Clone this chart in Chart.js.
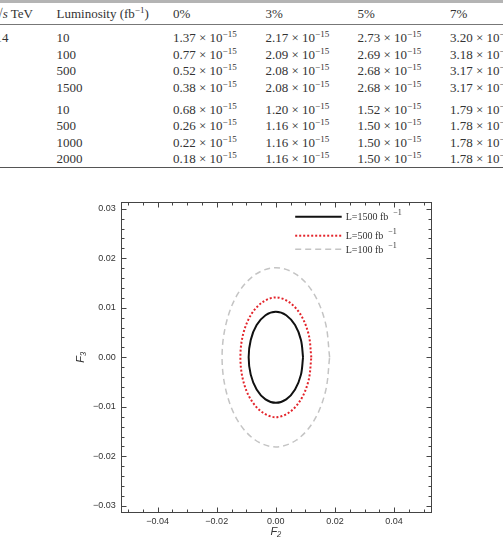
<!DOCTYPE html>
<html>
<head>
<meta charset="utf-8">
<script src="https://cdn.jsdelivr.net/npm/chart.js@4.4.0/dist/chart.umd.min.js"></script>
<style>
html, body { margin: 0; padding: 0; background: #fff; }
body { width: 503px; height: 541px; position: relative; overflow: hidden;
       font-family: "Liberation Serif", "Times New Roman", serif; color: #333; }
.c { position: absolute; font-size: 13px; line-height: 1; white-space: nowrap; transform: translateY(-50%); }
.c sup { font-size: 9px; vertical-align: 0; position: relative; top: -5px; }
.rule { position: absolute; left: 0; width: 503px; }
#wrap { position: absolute; left: 0; top: 190px; width: 503px; height: 351px; }
</style>
</head>
<body>
<div class="rule" style="top:0;height:3px;background:#b4b4b4"></div>
<div class="rule" style="top:24px;height:1px;background:#777"></div>
<div class="rule" style="top:167px;height:1px;background:#555"></div>
<div id="table"></div>
<div id="wrap"><canvas id="chart" width="503" height="351"></canvas></div>
<script>
// table data
var energies = ['14', '', '', '', '', '', '', ''];
var lumis = ['10', '100', '500', '1500', '10', '500', '1000', '2000'];
var pctHeaders = ['0%', '3%', '5%', '7%'];
var col0 = ['1.37', '0.77', '0.52', '0.38', '0.68', '0.26', '0.22', '0.18'];
var col3 = ['2.17', '2.09', '2.08', '2.08', '1.20', '1.16', '1.16', '1.16'];
var col5 = ['2.73', '2.69', '2.68', '2.68', '1.52', '1.50', '1.50', '1.50'];
var col7 = ['3.20', '3.18', '3.17', '3.17', '1.79', '1.78', '1.78', '1.78'];

// contour data (F2, F3)
var l1500F2 = [0.0092, 0.0085, 0.0065, 0.0035, 0, -0.0035, -0.0065, -0.0085, -0.0092, -0.0085, -0.0065, -0.0035, 0, 0.0035, 0.0065, 0.0085, 0.0092];
var l1500F3 = [0, 0.0035, 0.0065, 0.0085, 0.0092, 0.0085, 0.0065, 0.0035, 0, -0.0035, -0.0065, -0.0085, -0.0092, -0.0085, -0.0065, -0.0035, 0];
var l500F2 = [0.0120, 0.0111, 0.0085, 0.0046, 0, -0.0046, -0.0085, -0.0111, -0.0120, -0.0111, -0.0085, -0.0046, 0, 0.0046, 0.0085, 0.0111, 0.0120];
var l500F3 = [0, 0.0046, 0.0085, 0.0111, 0.0121, 0.0111, 0.0085, 0.0046, 0, -0.0046, -0.0085, -0.0111, -0.0121, -0.0111, -0.0085, -0.0046, 0];
var l100F2 = [0.0182, 0.0168, 0.0129, 0.0070, 0, -0.0070, -0.0129, -0.0168, -0.0182, -0.0168, -0.0129, -0.0070, 0, 0.0070, 0.0129, 0.0168, 0.0182];
var l100F3 = [0, 0.0069, 0.0128, 0.0167, 0.0181, 0.0167, 0.0128, 0.0069, 0, -0.0069, -0.0128, -0.0167, -0.0181, -0.0167, -0.0128, -0.0069, 0];
var legendLabels = ['L=1500 fb', 'L=500 fb', 'L=100 fb'];

// ---- table ----
var table = document.getElementById('table');
function cell(x, y, html) {
    var d = document.createElement('div');
    d.className = 'c';
    d.style.left = x + 'px';
    d.style.top = y + 'px';
    d.innerHTML = html;
    table.appendChild(d);
}
function sci(v) { return v + ' &times; 10<sup>&minus;15</sup>'; }

var colX = [173, 265.5, 357.5, 450];
var rowY = [37, 53.5, 70, 86.5, 108.5, 125, 141.5, 158];
cell(-4.5, 13, '&radic;<i>s</i> TeV');
cell(56.5, 13, 'Luminosity (fb<sup>&minus;1</sup>)');
pctHeaders.forEach(function(h, i) { cell(colX[i], 13, h); });
var cols = [col0, col3, col5, col7];
for (var r = 0; r < lumis.length; r++) {
    if (energies[r]) cell(-4.5, rowY[r], energies[r]);
    cell(56.5, rowY[r], lumis[r]);
    for (var c = 0; c < cols.length; c++) cell(colX[c], rowY[r], sci(cols[c][r]));
}

// ---- chart ----
function pts(xs, ys) {
    return xs.map(function(x, i) { return {x: x, y: ys[i]}; });
}
var fmt = function(v) {
    if (Math.abs(v) < 1e-9) return '0.00';
    return v.toFixed(2).replace('-', '\u2212');
};

var framePlugin = {
    id: 'frame',
    afterDatasetsDraw: function(chart) {
        var ctx = chart.ctx, a = chart.chartArea;
        var xs = chart.scales.x, ys = chart.scales.y;
        var L = Math.round(a.left) + 0.5, R = Math.round(a.right) + 0.5;
        var T = Math.round(a.top) + 0.5, B = Math.round(a.bottom) + 0.5;
        ctx.save();
        ctx.strokeStyle = '#444';
        ctx.lineWidth = 1;
        ctx.setLineDash([]);
        ctx.strokeRect(L, T, R - L, B - T);
        ctx.beginPath();
        var k, p, len;
        for (k = Math.ceil(xs.min / 0.005 - 1e-9); k * 0.005 <= xs.max + 1e-9; k++) {
            p = Math.round(xs.getPixelForValue(k * 0.005)) + 0.5;
            len = (k % 4 === 0) ? 5 : 3;
            ctx.moveTo(p, B); ctx.lineTo(p, B - len);
            ctx.moveTo(p, T); ctx.lineTo(p, T + len);
        }
        for (k = Math.ceil(ys.min / 0.002 - 1e-9); k * 0.002 <= ys.max + 1e-9; k++) {
            p = Math.round(ys.getPixelForValue(k * 0.002)) + 0.5;
            len = (k % 5 === 0) ? 5 : 3;
            ctx.moveTo(L, p); ctx.lineTo(L + len, p);
            ctx.moveTo(R, p); ctx.lineTo(R - len, p);
        }
        ctx.stroke();

        // legend inside plot
        var rowsY = [14.4, 33.4, 47];
        chart.data.datasets.forEach(function(ds, i) {
            var y = a.top + rowsY[i];
            ctx.beginPath();
            ctx.strokeStyle = ds.borderColor;
            ctx.lineWidth = ds.borderWidth;
            ctx.setLineDash(ds.borderDash || []);
            ctx.moveTo(a.left + 174.5, y);
            ctx.lineTo(a.left + 221, y);
            ctx.stroke();
            ctx.setLineDash([]);
            ctx.fillStyle = '#333';
            ctx.textBaseline = 'middle';
            ctx.textAlign = 'left';
            ctx.font = '10px "Liberation Serif"';
            ctx.fillText(legendLabels[i], a.left + 225, y + 1);
            var w = ctx.measureText(legendLabels[i]).width;
            ctx.font = '8px "Liberation Serif"';
            ctx.fillText('\u22121', a.left + 225 + w + 5, y - 3.5);
        });
        ctx.restore();
    }
};

var ctx = document.getElementById('chart').getContext('2d');
var chart = new Chart(ctx, {
    type: 'scatter',
    data: {
        datasets: [{
            label: legendLabels[0],
            data: pts(l1500F2, l1500F3),
            showLine: true,
            borderColor: '#111',
            borderWidth: 2,
            pointRadius: 0,
            tension: 0.34
        }, {
            label: legendLabels[1],
            data: pts(l500F2, l500F3),
            showLine: true,
            borderColor: '#e3242b',
            borderWidth: 2,
            borderDash: [2, 2],
            pointRadius: 0,
            tension: 0.34
        }, {
            label: legendLabels[2],
            data: pts(l100F2, l100F3),
            showLine: true,
            borderColor: '#c4c4c4',
            borderWidth: 1.5,
            borderDash: [6, 4],
            pointRadius: 0,
            tension: 0.34
        }]
    },
    options: {
        responsive: false,
        animation: false,
        devicePixelRatio: 1,
        layout: { padding: { left: 0, top: 12.3, right: 72, bottom: 0 } },
        plugins: { legend: { display: false }, tooltip: { enabled: false } },
        scales: {
            x: {
                type: 'linear',
                min: -0.0525,
                max: 0.0525,
                grid: { display: false, drawTicks: false },
                border: { display: false },
                ticks: { stepSize: 0.02, includeBounds: false, padding: 4, color: '#333',
                         font: { family: 'Liberation Sans', size: 9 }, maxRotation: 0, callback: fmt },
                title: { display: true, text: 'F\u2082', color: '#333', padding: { top: 0, bottom: 2 },
                         font: { family: 'Liberation Sans', size: 11, style: 'italic' } },
                afterFit: function(s) { s.height = 28.7; }
            },
            y: {
                type: 'linear',
                min: -0.0313,
                max: 0.0313,
                grid: { display: false, drawTicks: false },
                border: { display: false },
                ticks: { stepSize: 0.01, includeBounds: false, padding: 5, color: '#333',
                         font: { family: 'Liberation Sans', size: 9 }, callback: fmt },
                title: { display: true, text: 'F\u2083', color: '#333', padding: { top: 74, bottom: 0 },
                         font: { family: 'Liberation Sans', size: 11, style: 'italic' } },
                afterFit: function(s) { s.width = 120.7; }
            }
        }
    },
    plugins: [framePlugin]
});
</script>
</body>
</html>
